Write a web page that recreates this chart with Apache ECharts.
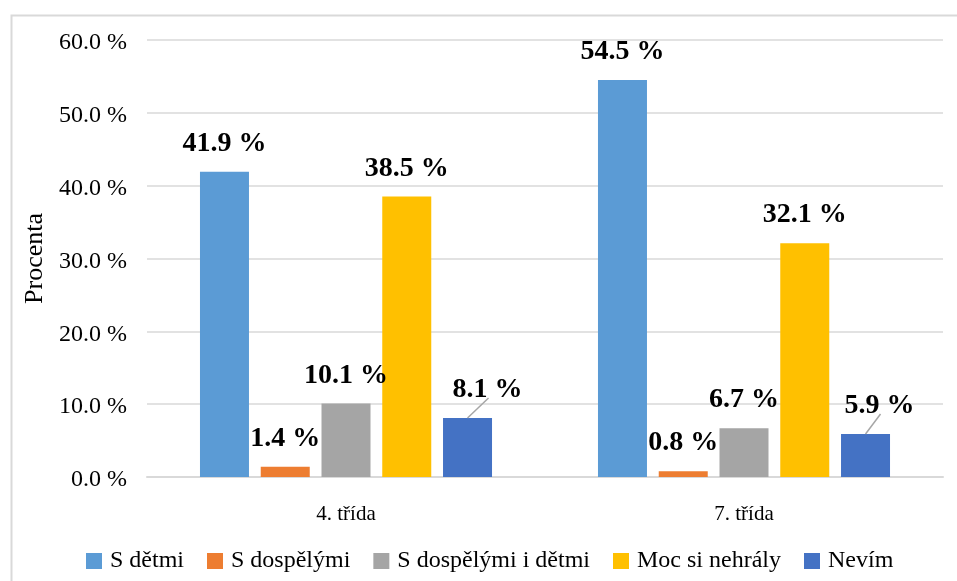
<!DOCTYPE html>
<html>
<head>
<meta charset="utf-8">
<script src="https://cdn.jsdelivr.net/npm/echarts@6/dist/echarts.min.js"></script>
<style>
  html, body { margin: 0; padding: 0; background: #fff; }
  #chart { width: 957px; height: 581px; }
</style>
</head>
<body>
<div id="chart"></div>
<script>
// Kategorie (třídy) a jednotlivé odpovědi v procentech
const categories = ['4. třída', '7. třída'];
const seriesNames = ['S dětmi', 'S dospělými', 'S dospělými i dětmi', 'Moc si nehrály', 'Nevím'];
const sDetmi = [41.9, 54.5];
const sDospelymi = [1.4, 0.8];
const sDospelymiIDetmi = [10.1, 6.7];
const mocSiNehraly = [38.5, 32.1];
const nevim = [8.1, 5.9];
const yTicks = [0, 10, 20, 30, 40, 50, 60];

const colors = ['#5B9BD5', '#ED7D31', '#A5A5A5', '#FFC000', '#4472C4'];
const serif = "'Liberation Serif', 'Times New Roman', serif";

const values = [sDetmi, sDospelymi, sDospelymiIDetmi, mocSiNehraly, nevim];
// posun popisků řady „Nevím“ doprava (px)
const nevimLabelShift = [20, 14];

const chart = echarts.init(document.getElementById('chart'));

const series = seriesNames.map((name, i) => {
  const s = {
    name: name,
    type: 'bar',
    data: values[i],
    barWidth: 49,
    barGap: '24%',
    itemStyle: { color: colors[i] },
    label: {
      show: true,
      position: 'top',
      distance: 14,
      formatter: p => p.value.toFixed(1) + ' %',
      fontFamily: serif,
      fontWeight: 'bold',
      fontSize: 28,
      color: '#000'
    }
  };
  if (i === 4) {
    s.labelLayout = p => ({ dx: nevimLabelShift[p.dataIndex] });
  }
  return s;
});

chart.setOption({
  animation: false,
  color: colors,
  graphic: [{
    id: 'frame',
    type: 'rect',
    left: 9,
    top: 13,
    shape: { width: 960, height: 580 },
    style: { fill: 'none', stroke: '#d9d9d9', lineWidth: 2 },
    silent: true
  }],
  grid: { left: 147, right: 14, top: 40, bottom: 104 },
  legend: {
    bottom: 8,
    left: 86,
    padding: 0,
    itemWidth: 16,
    itemHeight: 16,
    itemGap: 23,
    icon: 'rect',
    textStyle: { fontFamily: serif, fontSize: 24, color: '#000', padding: [0, 0, 0, 3] },
    data: seriesNames
  },
  xAxis: {
    type: 'category',
    data: categories,
    axisLine: { lineStyle: { color: '#d9d9d9', width: 2 } },
    axisTick: { show: false },
    axisLabel: { fontFamily: serif, fontSize: 21, color: '#000', margin: 27 }
  },
  yAxis: {
    type: 'value',
    min: yTicks[0],
    max: yTicks[yTicks.length - 1],
    interval: 10,
    name: 'Procenta',
    nameLocation: 'middle',
    nameGap: 97,
    nameTextStyle: { fontFamily: serif, fontSize: 26, color: '#000' },
    axisLine: { show: false },
    axisTick: { show: false },
    splitLine: { lineStyle: { color: '#d9d9d9', width: 1.5 } },
    axisLabel: {
      fontFamily: serif,
      fontSize: 24,
      color: '#000',
      margin: 20,
      verticalAlign: 'top',
      lineHeight: 6,
      formatter: v => v.toFixed(1) + ' %'
    }
  },
  series: series
});

// vodicí čáry od vrcholu sloupce k posunutému popisku
const nevimData = chart.getModel().getSeriesByIndex(4).getData();
const guides = nevim.map((v, idx) => {
  const r = nevimData.getItemLayout(idx);
  const x0 = r.x + r.width / 2;
  const y0 = r.y + Math.min(r.height, 0);
  return {
    id: 'guide' + idx,
    type: 'line',
    silent: true,
    z: 10,
    shape: { x1: x0, y1: y0, x2: x0 + nevimLabelShift[idx] + 1, y2: y0 - 20 },
    style: { stroke: '#a6a6a6', lineWidth: 1.5 }
  };
});
chart.setOption({ graphic: guides });
</script>
</body>
</html>
